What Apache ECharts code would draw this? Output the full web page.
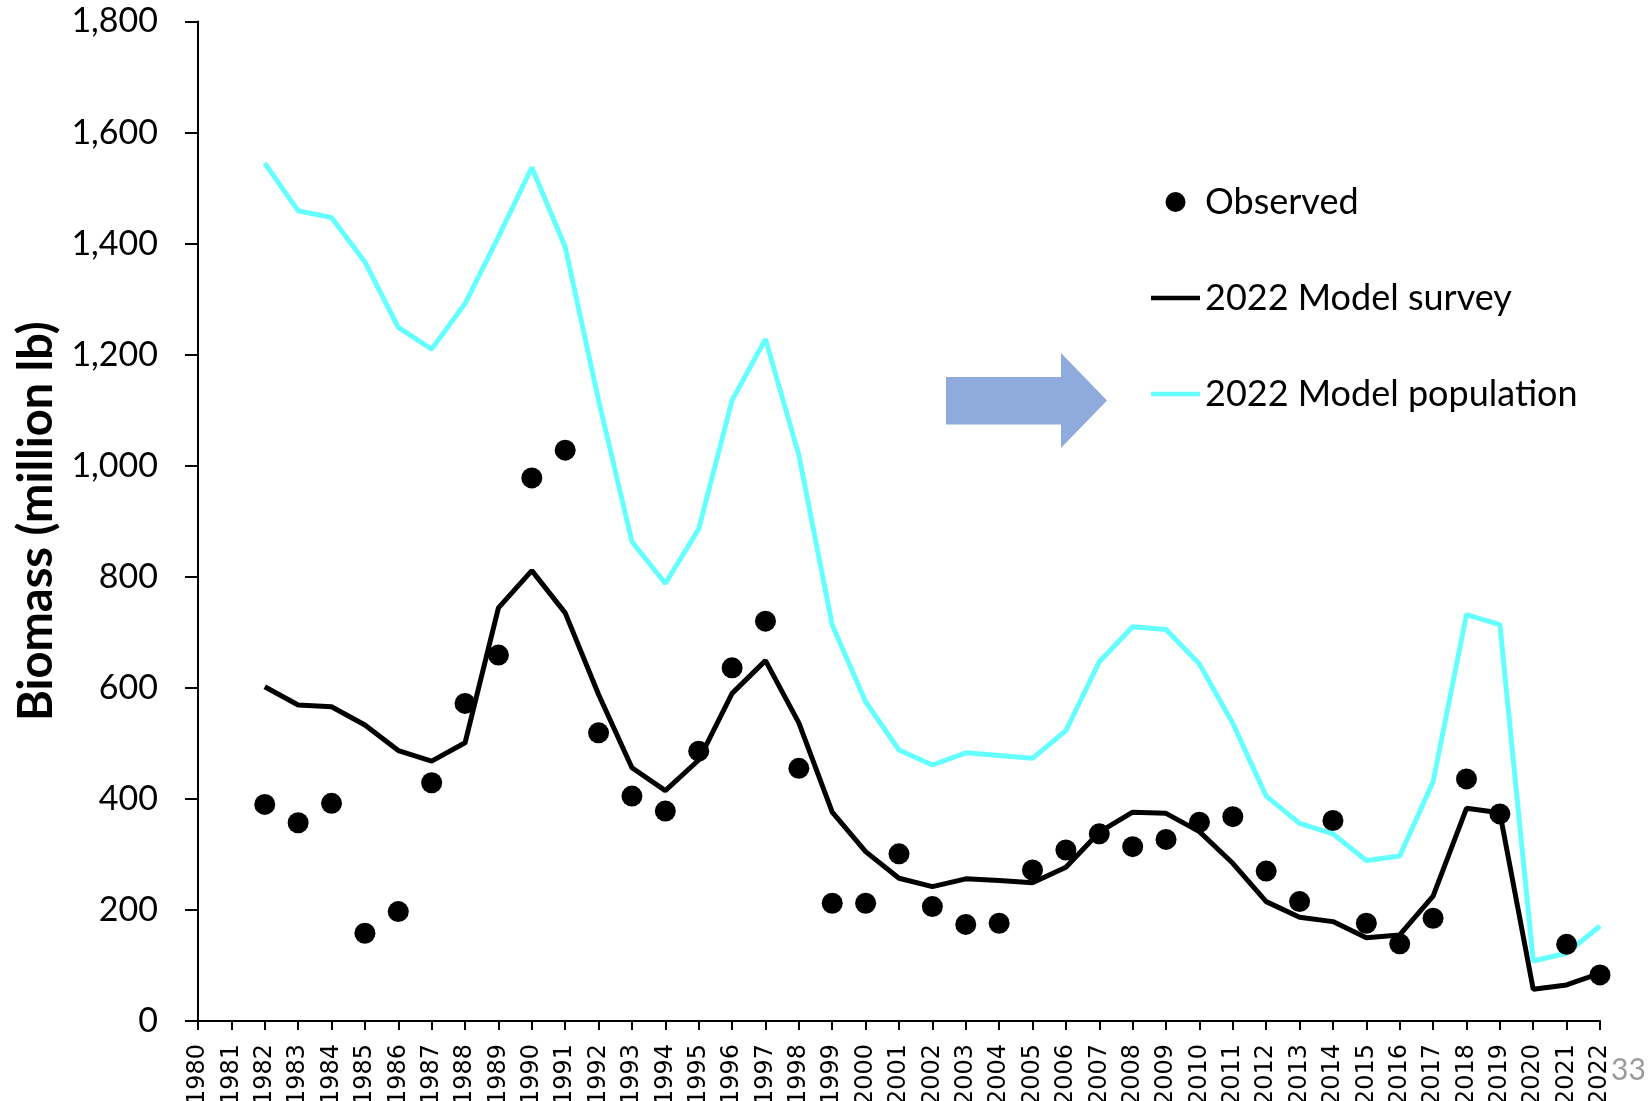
<!DOCTYPE html>
<html>
<head>
<meta charset="utf-8">
<script src="https://cdn.jsdelivr.net/npm/echarts@6/dist/echarts.min.js"></script>
<style>
html,body{margin:0;padding:0;background:#fff;}
#chart{width:1650px;height:1101px;}
</style>
</head>
<body>
<div id="chart"></div>
<script>
const years = ['1980','1981','1982','1983','1984','1985','1986','1987','1988','1989',
  '1990','1991','1992','1993','1994','1995','1996','1997','1998','1999',
  '2000','2001','2002','2003','2004','2005','2006','2007','2008','2009',
  '2010','2011','2012','2013','2014','2015','2016','2017','2018','2019',
  '2020','2021','2022'];

const observed = [null, null, 390, 357, 392, 158, 197, 429, 572, 659,
  978, 1028, 519, 405, 378, 486, 636, 720, 455, 212,
  212, 301, 206, 174, 176, 272, 308, 337, 314, 327,
  358, 368, 270, 215, 361, 176, 139, 185, 436, 373,
  null, 138, 83];

const modelSurvey = [null, null, 602, 569, 566, 533, 487, 468, 501, 744,
  811, 735, 588, 456, 415, 470, 590, 649, 537, 376,
  305, 257, 242, 256, 253, 249, 277, 340, 376, 374,
  341, 284, 215, 187, 179, 150, 155, 225, 383, 375,
  57, 65, 86];

const modelPopulation = [null, null, 1545, 1459, 1447, 1367, 1249, 1210, 1292, 1412,
  1537, 1394, 1118, 863, 788, 886, 1118, 1228, 1019, 713,
  575, 488, 461, 483, 478, 473, 523, 647, 710, 705,
  643, 536, 405, 356, 337, 289, 297, 431, 732, 714,
  108, 122, 171];

const yTicks = [0, 200, 400, 600, 800, 1000, 1200, 1400, 1600, 1800];

const seriesNames = ['Observed', '2022 Model survey', '2022 Model population'];

const lineIcon = 'path://M0,0 L98,0 L98,9 L0,9 Z';

const chart = echarts.init(document.getElementById('chart'), null, {renderer: 'canvas'});

chart.setOption({
  backgroundColor: '#ffffff',
  animation: false,
  grid: {left: 198, right: 50, top: 21.5, bottom: 80, containLabel: false, outerBoundsMode: 'none'},
  legend: {
    orient: 'vertical',
    left: 1146,
    top: 177,
    itemWidth: 49,
    itemHeight: 20,
    itemGap: 56,
    data: [
      {name: seriesNames[0], icon: 'circle'},
      {name: seriesNames[1], icon: lineIcon},
      {name: seriesNames[2], icon: lineIcon}
    ],
    textStyle: {fontFamily: 'Lato', fontSize: 36, color: '#000', lineHeight: 40}
  },
  xAxis: {
    type: 'category',
    data: years,
    boundaryGap: false,
    axisLine: {show: true, lineStyle: {color: '#000', width: 2}},
    axisTick: {show: true, length: 9, interval: 0, lineStyle: {color: '#000', width: 2}},
    axisLabel: {
      interval: 0, rotate: 90, margin: 23,
      fontFamily: 'DejaVu Sans', fontSize: 24, color: '#000'
    },
    splitLine: {show: false}
  },
  yAxis: {
    type: 'value',
    min: yTicks[0],
    max: yTicks[yTicks.length - 1],
    interval: 200,
    name: 'Biomass (million lb)',
    nameLocation: 'middle',
    nameRotate: 90,
    nameGap: 137,
    nameTextStyle: {fontFamily: 'Lato', fontWeight: 'bold', fontSize: 47, color: '#000'},
    axisLine: {show: true, lineStyle: {color: '#000', width: 2}},
    axisTick: {show: true, length: 13, lineStyle: {color: '#000', width: 2}},
    axisLabel: {
      margin: 40,
      fontFamily: 'Lato', fontSize: 34, color: '#000',
      formatter: v => v.toLocaleString('en-US')
    },
    splitLine: {show: false}
  },
  series: [
    {
      name: seriesNames[0],
      type: 'scatter',
      data: observed,
      symbol: 'circle',
      symbolSize: 21,
      itemStyle: {color: '#000', opacity: 1},
      z: 5
    },
    {
      name: seriesNames[1],
      type: 'line',
      data: modelSurvey,
      symbol: 'none',
      showSymbol: false,
      lineStyle: {color: '#000', width: 5},
      itemStyle: {color: '#000'},
      z: 3
    },
    {
      name: seriesNames[2],
      type: 'line',
      data: modelPopulation,
      symbol: 'none',
      showSymbol: false,
      lineStyle: {color: '#66FFFF', width: 5},
      itemStyle: {color: '#66FFFF'},
      z: 2
    }
  ],
  graphic: [
    {
      type: 'polygon',
      shape: {points: [[946, 377], [1061, 377], [1061, 353], [1107, 400.5], [1061, 448], [1061, 424.5], [946, 424.5]]},
      style: {fill: '#8FAADC'}
    },
    {
      type: 'text',
      left: 1611,
      top: 1055,
      style: {text: '33', fontFamily: 'Lato', fontSize: 30, fill: '#9a9a9a'}
    }
  ]
});
</script>
</body>
</html>
